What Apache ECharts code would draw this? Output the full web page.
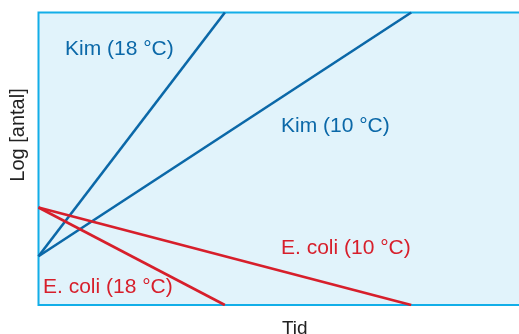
<!DOCTYPE html>
<html>
<head>
<meta charset="utf-8">
<script src="https://cdn.jsdelivr.net/npm/echarts@6/dist/echarts.min.js"></script>
<style>html,body{margin:0;padding:0;background:#fff}#c{width:519px;height:334px}</style>
</head>
<body>
<div id="c"></div>
<script>
// Time points (arbitrary units) and log counts
const tStart = 0;
const tEnd18 = 4;
const tEnd10 = 8;
const kimStart = 2;
const kimEnd = 12;
const coliStart = 4;
const coliEnd = 0;
const seriesNames = ['Kim (18 °C)', 'Kim (10 °C)', 'E. coli (18 °C)', 'E. coli (10 °C)'];
const kim18 = [[tStart, kimStart], [tEnd18, kimEnd]];
const kim10 = [[tStart, kimStart], [tEnd10, kimEnd]];
const coli18 = [[tStart, coliStart], [tEnd18, coliEnd]];
const coli10 = [[tStart, coliStart], [tEnd10, coliEnd]];
const xAxisName = 'Tid';
const yAxisName = 'Log [antal]';

const BLUE = '#0b68a8';
const RED = '#d71f2b';
const FONT = '"Liberation Sans", Arial, sans-serif';

const chart = echarts.init(document.getElementById('c'), null, {renderer: 'canvas'});
function line(name, data, color) {
  return {name, type: 'line', data, symbol: 'none', silent: true,
    lineStyle: {color, width: 2.6}, clip: true};
}
function lbl(text, left, top, color) {
  return {type: 'text', left, top, style: {text, fill: color, font: '21px ' + FONT}};
}
chart.setOption({
  animation: false,
  backgroundColor: '#fff',
  grid: {left: 38.5, top: 12.5, right: -32, bottom: 29, show: true, containLabel: false,
    outerBoundsMode: 'none',
    backgroundColor: '#e1f3fb', borderColor: '#12aee8', borderWidth: 2},
  xAxis: {type: 'value', min: 0, max: 11, name: xAxisName, nameLocation: 'middle', nameGap: 14,
    nameTextStyle: {fontSize: 19, fontFamily: FONT, color: '#222'},
    axisLine: {show: false}, axisTick: {show: false}, axisLabel: {show: false}, splitLine: {show: false}},
  yAxis: {type: 'value', min: 0, max: 12,
    axisLine: {show: false}, axisTick: {show: false}, axisLabel: {show: false}, splitLine: {show: false}},
  series: [
    line(seriesNames[0], kim18, BLUE),
    line(seriesNames[1], kim10, BLUE),
    line(seriesNames[2], coli18, RED),
    line(seriesNames[3], coli10, RED)
  ],
  graphic: [
    lbl(seriesNames[0], 65, 39, BLUE),
    lbl(seriesNames[1], 281, 116, BLUE),
    lbl(seriesNames[2], 43, 277, RED),
    lbl(seriesNames[3], 281, 238, RED),
    {type: 'text', x: 18.5, y: 135, rotation: Math.PI / 2,
      style: {text: yAxisName, fill: '#222', font: '20px ' + FONT, align: 'center', verticalAlign: 'middle'}}
  ]
});
</script>
</body>
</html>
